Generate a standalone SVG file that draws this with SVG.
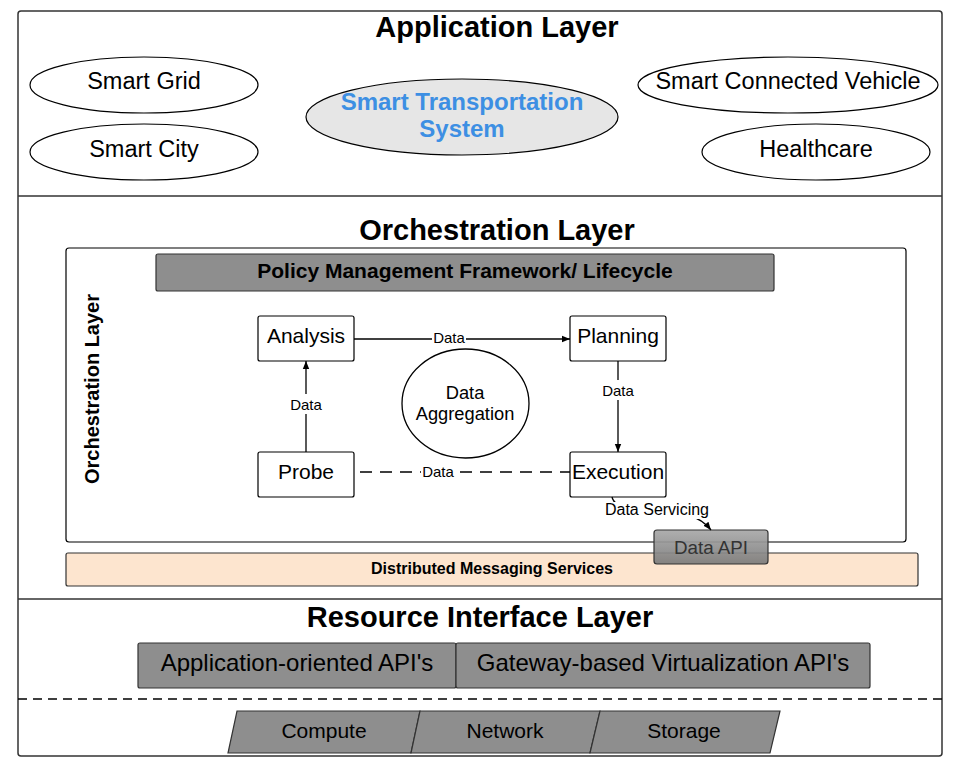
<svg xmlns="http://www.w3.org/2000/svg" width="960" height="768" viewBox="0 0 960 768">
<defs>
<style>
text{font-family:"Liberation Sans",Arial,sans-serif;fill:#000}
.title{font-size:29px;font-weight:bold;text-anchor:middle}
.ell{fill:#fff;stroke:#000;stroke-width:1.2}
.lbl{font-size:23.5px;text-anchor:middle}
.box{fill:#fff;stroke:#000;stroke-width:1.2}
.bt{font-size:21px;text-anchor:middle}
.grey{fill:#8e8e8e;stroke:#333;stroke-width:1.2}
.edge{fill:none;stroke:#000;stroke-width:1.3}
.el{font-size:15px;text-anchor:middle}
</style>
<marker id="arr" viewBox="0 0 10 10" refX="10" refY="5" markerWidth="8" markerHeight="8" orient="auto" markerUnits="userSpaceOnUse"><path d="M0,1 L10,5 L0,9 Z" fill="#000"/></marker>
<linearGradient id="api" x1="0" y1="0" x2="0" y2="1"><stop offset="0" stop-color="#a8a8a8"/><stop offset="1" stop-color="#7a7a7a"/></linearGradient>
</defs>
<rect width="960" height="768" fill="#fff"/>
<g id="frame">
<rect x="18" y="11" width="924" height="745" rx="3" fill="#fff" stroke="#333" stroke-width="1.5"/>
<line x1="18" y1="196" x2="942" y2="196" stroke="#333" stroke-width="1.5"/>
<line x1="18" y1="599" x2="942" y2="599" stroke="#333" stroke-width="1.5"/>
<line x1="18" y1="699" x2="942" y2="699" stroke="#000" stroke-width="1.5" stroke-dasharray="9,6"/>
</g>
<g id="app-layer">
<text class="title" x="497" y="37">Application Layer</text>
</g>
<g id="smart-grid"><ellipse class="ell" cx="144" cy="85" rx="114" ry="28"/><text class="lbl" x="144" y="89">Smart Grid</text></g>
<g id="smart-city"><ellipse class="ell" cx="144" cy="152" rx="114" ry="28"/><text class="lbl" x="144" y="157">Smart City</text></g>
<g id="smart-transport"><ellipse cx="462" cy="117" rx="156" ry="38" fill="#e6e6e6" stroke="#000" stroke-width="1.2"/><text x="462" y="110" style="font-size:24px;text-anchor:middle;fill:#3d8fe3;font-weight:bold">Smart Transportation</text><text x="462" y="137" style="font-size:24px;text-anchor:middle;fill:#3d8fe3;font-weight:bold">System</text></g>
<g id="smart-vehicle"><ellipse class="ell" cx="788" cy="85" rx="150" ry="28"/><text class="lbl" x="788" y="89">Smart Connected Vehicle</text></g>
<g id="healthcare"><ellipse class="ell" cx="816" cy="152" rx="114" ry="28"/><text class="lbl" x="816" y="157">Healthcare</text></g>

<g id="orch-layer">
<text class="title" x="497" y="240">Orchestration Layer</text>
<rect x="66" y="248" width="840" height="294" rx="3" fill="#fff" stroke="#000" stroke-width="1.2"/>
<text x="99" y="389" transform="rotate(-90 99 389)" style="font-size:20px;font-weight:bold;text-anchor:middle">Orchestration Layer</text>
</g>
<g id="policy"><rect class="grey" x="156" y="254" width="618" height="37" rx="2"/><text x="465" y="278" style="font-size:21px;font-weight:bold;text-anchor:middle">Policy Management Framework/ Lifecycle</text></g>
<g id="analysis"><rect class="box" x="258" y="316" width="96" height="45" rx="2"/><text class="bt" x="306" y="343">Analysis</text></g>
<g id="planning"><rect class="box" x="570" y="316" width="96" height="45" rx="2"/><text class="bt" x="618" y="343">Planning</text></g>
<g id="probe"><rect class="box" x="258" y="452" width="96" height="45" rx="2"/><text class="bt" x="306" y="479">Probe</text></g>
<g id="execution"><rect class="box" x="570" y="452" width="96" height="45" rx="2"/><text class="bt" x="618" y="479">Execution</text></g>
<g id="data-aggregation"><ellipse cx="465.5" cy="403.5" rx="63.5" ry="54.5" fill="#fff" stroke="#000" stroke-width="1.3"/><text x="465" y="399" style="font-size:18.3px;text-anchor:middle">Data</text><text x="465" y="420" style="font-size:18.3px;text-anchor:middle">Aggregation</text></g>

<g id="distributed"><rect x="66" y="553" width="852" height="33" rx="2" fill="#fde5cf" stroke="#333" stroke-width="1.2"/><text x="492" y="574" style="font-size:16px;font-weight:bold;text-anchor:middle">Distributed Messaging Services</text></g>
<g id="data-api"><rect x="654" y="530" width="114" height="34" rx="3" fill="url(#api)" fill-opacity="0.92" stroke="#333" stroke-width="1.2"/><text x="711" y="554" style="font-size:18.8px;text-anchor:middle;fill:#333">Data API</text></g>

<g id="connectors">
<line class="edge" x1="354" y1="339" x2="570" y2="339" marker-end="url(#arr)"/>
<rect x="432" y="330" width="34" height="17" fill="#fff"/>
<text class="el" x="449" y="343">Data</text>
<line class="edge" x1="618" y1="361" x2="618" y2="452" marker-end="url(#arr)"/>
<rect x="600" y="380" width="36" height="20" fill="#fff"/>
<text class="el" x="618" y="396">Data</text>
<line class="edge" x1="306" y1="452" x2="306" y2="361" marker-end="url(#arr)"/>
<rect x="288" y="394" width="36" height="20" fill="#fff"/>
<text class="el" x="306" y="410">Data</text>
<line class="edge" x1="360" y1="472" x2="570" y2="472" stroke-dasharray="12,8"/>
<rect x="421" y="463" width="34" height="17" fill="#fff"/>
<text class="el" x="438" y="477">Data</text>
<path class="edge" d="M612,497 Q614,506 630,508 L690,516 Q702,519 711,530" marker-end="url(#arr)"/>
<rect x="603" y="502" width="108" height="17" fill="#fff"/>
<text x="657" y="515" style="font-size:16px;text-anchor:middle">Data Servicing</text>
</g>

<g id="resource-layer"><text class="title" x="480" y="627">Resource Interface Layer</text></g>
<g id="app-api"><rect class="grey" x="138" y="643" width="318" height="45" rx="2"/><text x="297" y="671" style="font-size:24px;text-anchor:middle">Application-oriented API's</text></g>
<g id="gw-api"><rect class="grey" x="456" y="643" width="414" height="45" rx="2"/><text x="663" y="671" style="font-size:24px;text-anchor:middle">Gateway-based Virtualization API's</text></g>
<g id="compute"><path class="grey" d="M237,711 L420,711 L411,753 L228,753 Z"/><text class="bt" x="324" y="738">Compute</text></g>
<g id="network"><path class="grey" d="M420,711 L600,711 L590,753 L411,753 Z"/><text class="bt" x="505" y="738">Network</text></g>
<g id="storage"><path class="grey" d="M600,711 L780,711 L770,753 L590,753 Z"/><text class="bt" x="684" y="738">Storage</text></g>
</svg>
